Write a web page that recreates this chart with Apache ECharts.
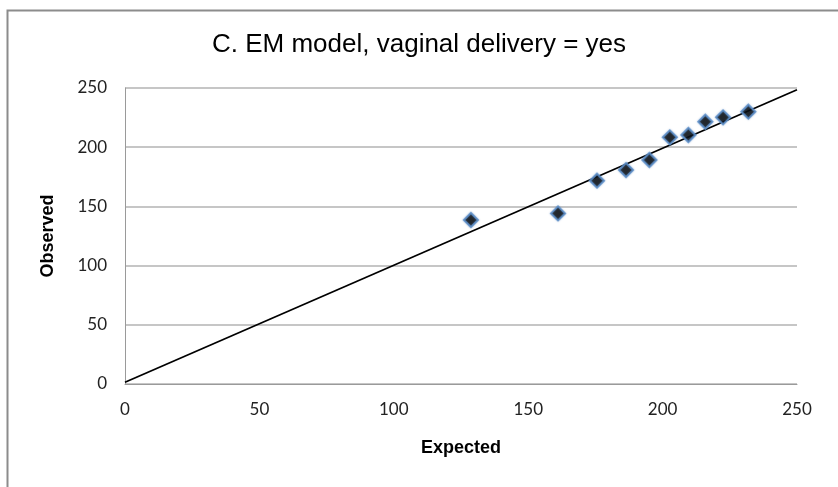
<!DOCTYPE html>
<html>
<head>
<meta charset="utf-8">
<script src="https://cdn.jsdelivr.net/npm/echarts@6/dist/echarts.min.js"></script>
<style>
  html, body { margin: 0; padding: 0; background: #fff; }
  #main { width: 838px; height: 487px; }
</style>
</head>
<body>
<div id="main"></div>
<script>
// 数据
let expected = [128.7, 161.1, 175.6, 186.4, 195.1, 202.7, 209.6, 215.9, 222.5, 231.9];
let observed = [138.5, 144.1, 171.7, 180.7, 189.2, 208.3, 210.3, 221.5, 225.2, 230.0];
// 参考线两端
let lineX = [0, 250];
let lineY = [1.5, 248.5];
let axisTicks = [0, 50, 100, 150, 200, 250];

let points = [];
for (let i = 0; i < expected.length; i++) {
    points.push([expected[i], observed[i]]);
}
let linePts = [];
for (let i = 0; i < lineX.length; i++) {
    linePts.push([lineX[i], lineY[i]]);
}

let myChart = echarts.init(document.getElementById('main'));

let tickFont = {
    color: '#222',
    fontFamily: 'Lato, "Open Sans", sans-serif',
    fontSize: 17
};

let option = {
    animation: false,
    backgroundColor: '#fff',
    title: {
        text: 'C. EM model, vaginal delivery = yes',
        left: 'center',
        top: 27,
        textStyle: {
            fontFamily: '"Liberation Sans", Arial, sans-serif',
            fontWeight: 'normal',
            fontSize: 26,
            color: '#000'
        }
    },
    graphic: [{
        type: 'rect',
        left: 5,
        top: 8,
        shape: { width: 900, height: 600 },
        style: { fill: 'none', stroke: '#8c8c8c', lineWidth: 2 },
        silent: true
    }],
    grid: {
        left: 125,
        right: 41,
        top: 88,
        bottom: 103
    },
    xAxis: {
        type: 'value',
        min: axisTicks[0],
        max: axisTicks[axisTicks.length - 1],
        interval: 50,
        name: 'Expected',
        nameLocation: 'middle',
        nameGap: 55,
        nameTextStyle: {
            fontFamily: '"Liberation Sans", Arial, sans-serif',
            fontWeight: 'bold',
            fontSize: 18,
            color: '#000'
        },
        axisLine: { show: true, lineStyle: { color: '#9a9a9a', width: 1 } },
        axisTick: { show: false },
        splitLine: { show: false },
        axisLabel: Object.assign({ margin: 17 }, tickFont)
    },
    yAxis: {
        type: 'value',
        min: axisTicks[0],
        max: axisTicks[axisTicks.length - 1],
        interval: 50,
        name: 'Observed',
        nameLocation: 'middle',
        nameGap: 68,
        nameRotate: 90,
        nameTextStyle: {
            fontFamily: '"Liberation Sans", Arial, sans-serif',
            fontWeight: 'bold',
            fontSize: 18,
            color: '#000'
        },
        axisLine: { show: true, lineStyle: { color: '#9a9a9a', width: 1 } },
        axisTick: { show: false },
        splitLine: { show: true, lineStyle: { color: '#b3b3b3', width: 1.5 } },
        axisLabel: Object.assign({ margin: 18 }, tickFont)
    },
    series: [{
        type: 'line',
        data: linePts,
        symbol: 'none',
        lineStyle: { color: '#000', width: 1.8 },
        z: 2
    }, {
        type: 'scatter',
        data: points,
        symbol: 'diamond',
        symbolSize: 14,
        itemStyle: {
            color: '#000',
            borderColor: '#5d8fc9',
            borderWidth: 2,
            shadowColor: 'rgba(79,129,189,0.6)',
            shadowBlur: 2
        },
        z: 3
    }]
};

myChart.setOption(option);
</script>
</body>
</html>
